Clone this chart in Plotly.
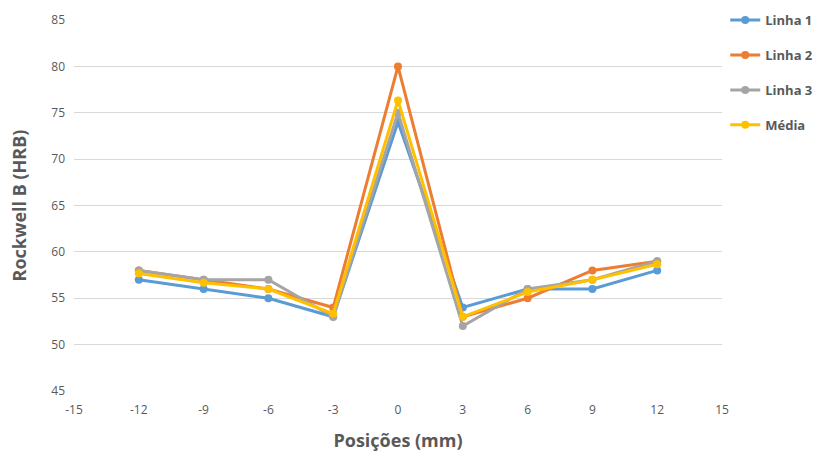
import plotly.graph_objects as go

posicoes = [-12, -9, -6, -3, 0, 3, 6, 9, 12]
linha1 = [57, 56, 55, 53, 74, 54, 56, 56, 58]
linha2 = [58, 57, 56, 54, 80, 53, 55, 58, 59]
linha3 = [58, 57, 57, 53, 75, 52, 56, 57, 59]
media = [57.67, 56.67, 56.0, 53.33, 76.33, 53.0, 55.67, 57.0, 58.67]

x_tickvals = [-15, -12, -9, -6, -3, 0, 3, 6, 9, 12, 15]
x_ticktext = ["-15", "-12", "-9", "-6", "-3", "0", "3", "6", "9", "12", "15"]
y_tickvals = [45, 50, 55, 60, 65, 70, 75, 80, 85]

series_names = ["Linha 1", "Linha 2", "Linha 3", "Média"]
series_values = [linha1, linha2, linha3, media]
colors = ["#5B9BD5", "#ED7D31", "#A5A5A5", "#FFC000"]

fig = go.Figure()
for name, vals, col in zip(series_names, series_values, colors):
    fig.add_trace(go.Scatter(
        x=posicoes, y=vals, name=name, mode="lines+markers",
        line=dict(color=col, width=3),
        marker=dict(color=col, size=8),
        legendgroup=name,
    ))

font_family = "Open Sans, Liberation Sans, sans-serif"
fig.update_layout(
    width=827, height=453,
    margin=dict(l=74, r=105, t=20, b=62, autoexpand=False),
    paper_bgcolor="white", plot_bgcolor="white",
    font=dict(family=font_family, color="#595959", size=12),
    showlegend=True,
    legend=dict(
        x=1.005, y=1.04, xanchor="left", yanchor="top",
        font=dict(size=13, color="#595959", family=font_family, weight="bold"),
        tracegroupgap=15,
        bgcolor="rgba(0,0,0,0)",
    ),
    xaxis=dict(
        range=[-15, 15], tickvals=x_tickvals, ticktext=x_ticktext,
        showgrid=False, zeroline=False, showline=False,
        tickfont=dict(size=12, color="#595959"),
        title=dict(text="<b>Posições (mm)</b>", font=dict(size=18, color="#595959"), standoff=17),
        ticks="", ticklen=0, ticklabelstandoff=10,
        automargin=False,
    ),
    yaxis=dict(
        range=[45, 85], tickvals=y_tickvals,
        showgrid=True, gridcolor="#D9D9D9", gridwidth=1, zeroline=False, showline=False,
        tickfont=dict(size=12, color="#595959"),
        title=dict(text="<b>Rockwell B (HRB)</b>", font=dict(size=18, color="#595959"), standoff=19),
        ticks="", ticklen=0, ticklabelstandoff=8,
        automargin=False,
    ),
)

fig.write_html("out.html")
